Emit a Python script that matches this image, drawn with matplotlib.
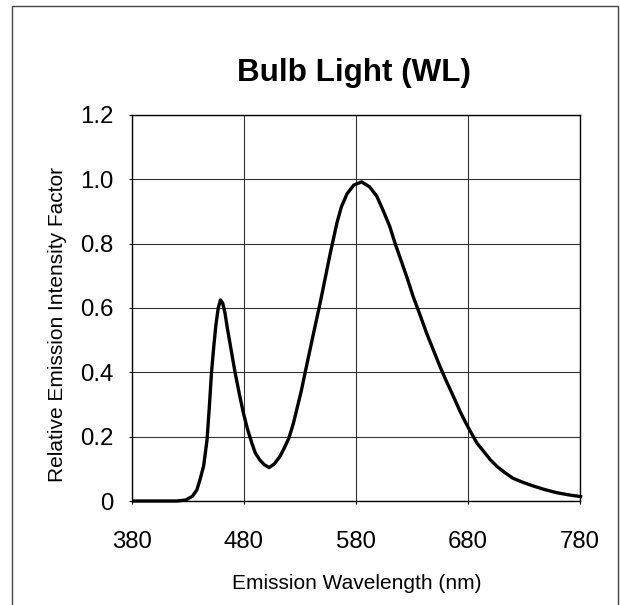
import matplotlib
matplotlib.use("Agg")
import matplotlib.pyplot as plt
from matplotlib.patches import Rectangle

# spectrum
wavelength = [380, 400, 420, 428, 434, 438, 441, 444, 447, 449, 451, 453, 455, 457,
              459, 461, 463, 465, 467.5, 470, 472, 476, 479.5, 483, 487, 490, 494,
              498, 502.5, 507, 512, 516, 520, 524, 527, 531, 534.5, 538, 542, 545,
              548, 552, 557, 563, 567, 572, 578, 585, 592, 598.5, 604, 610, 615,
              621, 626, 631, 637, 643, 649, 655, 661, 667, 673, 678, 683, 688, 694,
              700, 706, 713, 720, 729, 738, 748, 759, 770, 782]
intensity = [0, 0, 0, 0.003, 0.015, 0.035, 0.07, 0.11, 0.19, 0.29, 0.40, 0.48, 0.55,
             0.60, 0.625, 0.615, 0.585, 0.54, 0.49, 0.44, 0.40, 0.33, 0.273, 0.225,
             0.18, 0.15, 0.128, 0.113, 0.104, 0.115, 0.138, 0.165, 0.195, 0.24,
             0.283, 0.34, 0.398, 0.455, 0.52, 0.568, 0.616, 0.684, 0.77, 0.865,
             0.915, 0.955, 0.982, 0.992, 0.977, 0.948, 0.905, 0.855, 0.80, 0.74,
             0.69, 0.636, 0.58, 0.522, 0.47, 0.418, 0.37, 0.325, 0.278, 0.243,
             0.211, 0.18, 0.154, 0.128, 0.107, 0.088, 0.071, 0.058, 0.047, 0.036,
             0.026, 0.019, 0.013]

x_ticks = [380, 480, 580, 680, 780]
y_ticks = [0, 0.2, 0.4, 0.6, 0.8, 1.0, 1.2]
y_labels = ["0", "0.2", "0.4", "0.6", "0.8", "1.0", "1.2"]

plt.rcParams["font.family"] = ["Liberation Sans", "DejaVu Sans"]

W, H = 620, 605
fig = plt.figure(figsize=(W / 100, H / 100), dpi=100)
ax = fig.add_axes([132 / W, 1 - 501 / H, 448 / W, 386 / H])

ax.plot(wavelength, intensity, color="black", lw=2.4, clip_on=False,
        solid_capstyle="butt", solid_joinstyle="round", zorder=3)

ax.set_xlim(380, 780)
ax.set_ylim(0, 1.2)
ax.set_xticks(x_ticks)
ax.set_yticks(y_ticks)
ax.set_yticklabels(y_labels)
ax.grid(True, color="#333333", lw=0.8)
ax.tick_params(axis="x", length=2.5, width=0.8, pad=19, labelsize=17.3)
ax.tick_params(axis="y", length=2.5, width=0.8, pad=11, labelsize=17.3)
for s in ax.spines.values():
    s.set_linewidth(1.0)
    s.set_color("black")

# labels placed in figure pixels to match the reference
fig.text(354 / W, 1 - 81 / H, "Bulb Light (WL)", fontsize=22.6, fontweight="bold",
         ha="center", va="baseline")
fig.text(357 / W, 1 - 589 / H, "Emission Wavelength (nm)", fontsize=15,
         ha="center", va="baseline")
fig.text(63 / W, 1 - 324 / H, "Relative Emission Intensity Factor", fontsize=15,
         rotation=90, ha="center", va="baseline", rotation_mode="anchor")

# outer frame (bottom edge runs off the picture)
fig.patches.append(Rectangle((12 / W, -0.05), 606 / W, 1.05 - 6 / H,
                             transform=fig.transFigure, fill=False,
                             edgecolor="#444444", lw=1.0))

fig.savefig("out.png", dpi=100)
